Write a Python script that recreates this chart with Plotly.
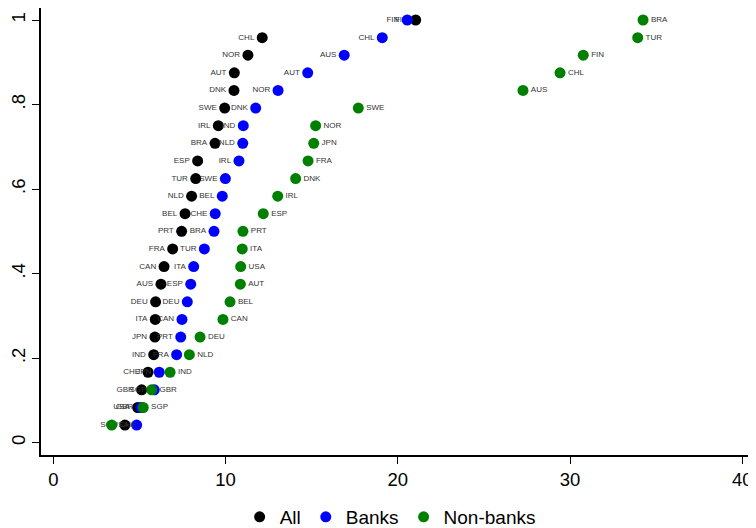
import plotly.graph_objects as go

# Share of countries at or below each rank (24 countries)
rank_share = [1.0, 0.9583, 0.9167, 0.875, 0.8333, 0.7917, 0.75, 0.7083,
              0.6667, 0.625, 0.5833, 0.5417, 0.5, 0.4583, 0.4167, 0.375,
              0.3333, 0.2917, 0.25, 0.2083, 0.1667, 0.125, 0.0833, 0.0417]

all_countries = ["FIN", "CHL", "NOR", "AUT", "DNK", "SWE", "IRL", "BRA",
                 "ESP", "TUR", "NLD", "BEL", "PRT", "FRA", "CAN", "AUS",
                 "DEU", "ITA", "JPN", "IND", "CHE", "GBR", "USA", "SGP"]
all_values = [21.04, 12.13, 11.30, 10.51, 10.49, 9.95, 9.58, 9.39,
              8.38, 8.27, 8.03, 7.65, 7.45, 6.93, 6.43, 6.25,
              5.94, 5.92, 5.90, 5.83, 5.50, 5.13, 4.90, 4.16]

bank_countries = ["FIN", "CHL", "AUS", "AUT", "NOR", "DNK", "IND", "NLD",
                  "IRL", "SWE", "BEL", "CHE", "BRA", "TUR", "ITA", "ESP",
                  "DEU", "CAN", "PRT", "FRA", "JPN", "SGP", "GBR", "USA"]
bank_values = [20.55, 19.10, 16.89, 14.77, 13.05, 11.75, 11.03, 11.00,
               10.78, 9.99, 9.81, 9.40, 9.33, 8.77, 8.15, 7.98,
               7.78, 7.47, 7.40, 7.16, 6.15, 5.86, 5.09, 4.84]

nonbank_countries = ["BRA", "TUR", "FIN", "CHL", "AUS", "SWE", "NOR", "JPN",
                     "FRA", "DNK", "IRL", "ESP", "PRT", "ITA", "USA", "AUT",
                     "BEL", "CAN", "DEU", "NLD", "IND", "GBR", "SGP", "CHE"]
nonbank_values = [34.24, 33.93, 30.77, 29.42, 27.27, 17.71, 15.23, 15.12,
                  14.79, 14.07, 13.03, 12.19, 11.01, 10.97, 10.88, 10.86,
                  10.26, 9.85, 8.52, 7.90, 6.78, 5.71, 5.22, 3.39]

x_ticks = [0, 10, 20, 30, 40]
y_ticks = [0, 0.2, 0.4, 0.6, 0.8, 1.0]
y_tick_labels = ["0", ".2", ".4", ".6", ".8", "1"]

FONT = "Liberation Sans, Arial, sans-serif"
label_font = dict(family=FONT, size=8, color="#333333")

fig = go.Figure()
series = [
    ("All", all_values, all_countries, "#000000", "middle left"),
    ("Banks", bank_values, bank_countries, "#0000ff", "middle left"),
    ("Non-banks", nonbank_values, nonbank_countries, "#008000", "middle right"),
]
for name, vals, labs, col, pos in series:
    fig.add_trace(go.Scatter(
        x=vals, y=rank_share, mode="markers+text", name=name,
        text=labs, textposition=pos, textfont=label_font,
        marker=dict(color=col, size=11, line=dict(width=0)),
        cliponaxis=False,
    ))

fig.update_layout(
    width=756, height=528,
    margin=dict(l=33, r=9, t=0, b=81, autoexpand=False),
    paper_bgcolor="white", plot_bgcolor="white",
    font=dict(family=FONT, color="#000000"),
    showlegend=True,
    legend=dict(orientation="h", x=0.489, xanchor="center", xref="paper",
                y=0.0, yanchor="bottom", yref="container",
                font=dict(family=FONT, size=19), itemwidth=30,
                tracegroupgap=0, bgcolor="rgba(0,0,0,0)"),
)
fig.update_xaxes(
    range=[-0.714, 40.74], tickvals=x_ticks, ticks="outside", ticklen=7,
    tickwidth=1.2, tickcolor="#000", showgrid=False, zeroline=False,
    showline=True, linecolor="#000", linewidth=1.5, mirror=True,
    tickfont=dict(family=FONT, size=18.5), automargin=False,
)
fig.update_yaxes(
    range=[-0.0291, 1.0284], tickvals=y_ticks, ticktext=y_tick_labels,
    tickangle=-90, ticks="outside", ticklen=7, tickwidth=1.2, tickcolor="#000",
    showgrid=False, zeroline=False, showline=True, linecolor="#000",
    linewidth=1.5, mirror=True, tickfont=dict(family=FONT, size=18.5),
    automargin=False,
)

fig.write_html("out.html")
